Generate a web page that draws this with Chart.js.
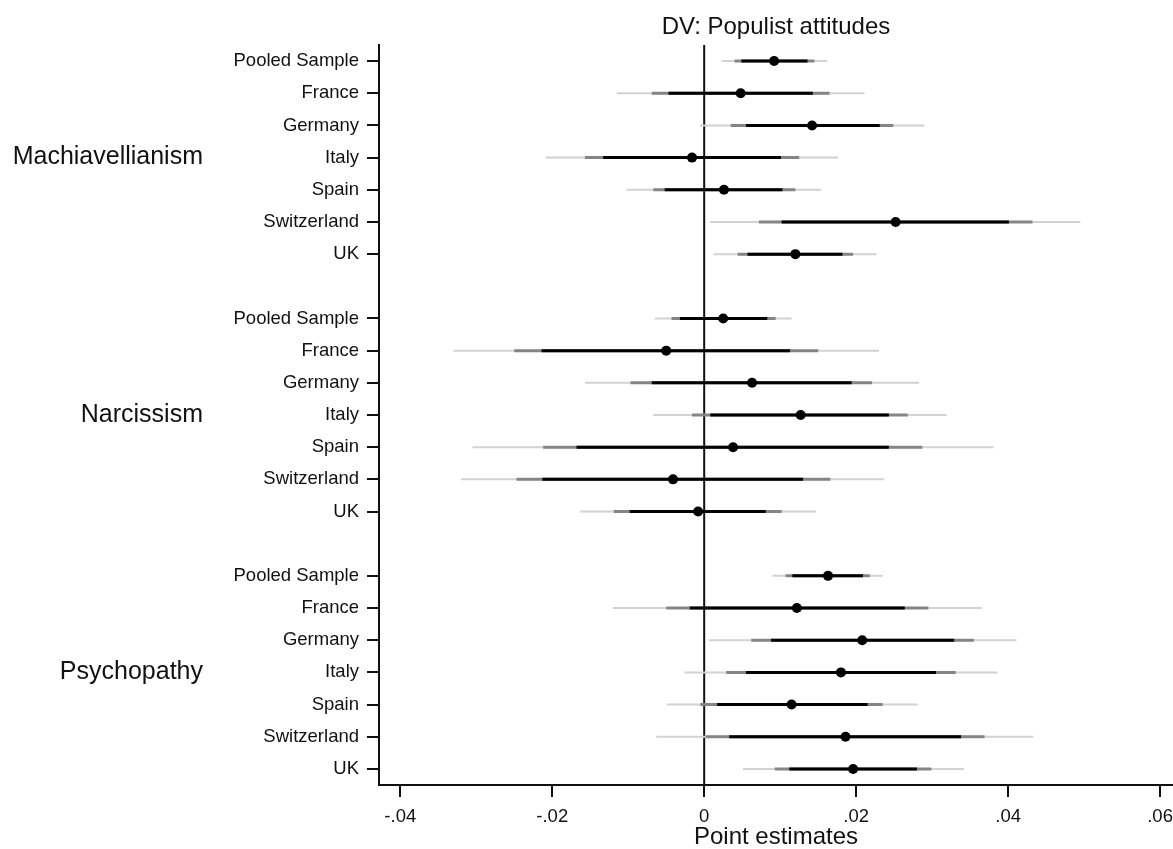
<!DOCTYPE html>
<html>
<head>
<meta charset="utf-8">
<script src="https://cdn.jsdelivr.net/npm/chart.js@4"></script>
<style>
  body { margin: 0; background: #fff; }
  canvas { display: block; }
</style>
</head>
<body>
<canvas id="chart" width="1173" height="849"></canvas>
<script>
const traits = ['Machiavellianism', 'Narcissism', 'Psychopathy'];
const countries = ['Pooled Sample', 'France', 'Germany', 'Italy', 'Spain', 'Switzerland', 'UK'];
const xTicks = [-0.04, -0.02, 0, 0.02, 0.04, 0.06];

// rows: Machiavellianism x7, Narcissism x7, Psychopathy x7 (same country order)
const estimates = [
    0.0092, 0.0048, 0.0142, -0.0016, 0.0026, 0.0252, 0.0120,
    0.0025, -0.0050, 0.0063, 0.0127, 0.0038, -0.0041, -0.0008,
    0.0163, 0.0122, 0.0208, 0.0180, 0.0115, 0.0186, 0.0196
];
// widest interval (light grey)
const lo99 = [
    0.0023, -0.0115, -0.0006, -0.0209, -0.0102, 0.0008, 0.0012,
    -0.0065, -0.0330, -0.0157, -0.0067, -0.0305, -0.0320, -0.0163,
    0.0090, -0.0120, 0.0006, -0.0026, -0.0049, -0.0063, 0.0051
];
const hi99 = [
    0.0162, 0.0211, 0.0290, 0.0176, 0.0154, 0.0495, 0.0227,
    0.0115, 0.0230, 0.0283, 0.0319, 0.0381, 0.0237, 0.0147,
    0.0235, 0.0365, 0.0411, 0.0386, 0.0281, 0.0433, 0.0342
];
// middle interval (grey)
const lo95 = [
    0.0040, -0.0069, 0.0035, -0.0157, -0.0067, 0.0072, 0.0044,
    -0.0043, -0.0250, -0.0097, -0.0016, -0.0212, -0.0247, -0.0119,
    0.0107, -0.0050, 0.0062, 0.0029, -0.0005, 0.0002, 0.0093
];
const hi95 = [
    0.0145, 0.0165, 0.0249, 0.0125, 0.0120, 0.0432, 0.0196,
    0.0094, 0.0150, 0.0221, 0.0268, 0.0287, 0.0166, 0.0102,
    0.0218, 0.0295, 0.0355, 0.0331, 0.0235, 0.0369, 0.0299
];
// narrowest interval (black)
const lo90 = [
    0.0049, -0.0047, 0.0055, -0.0133, -0.0052, 0.0102, 0.0057,
    -0.0032, -0.0214, -0.0069, 0.0008, -0.0168, -0.0213, -0.0098,
    0.0116, -0.0019, 0.0088, 0.0055, 0.0017, 0.0033, 0.0112
];
const hi90 = [
    0.0136, 0.0143, 0.0231, 0.0101, 0.0103, 0.0401, 0.0182,
    0.0083, 0.0113, 0.0194, 0.0243, 0.0243, 0.0130, 0.0081,
    0.0209, 0.0264, 0.0329, 0.0305, 0.0215, 0.0338, 0.0280
];

const FONT = '"Liberation Sans", Arial, sans-serif';
const TXT = '#111';

// row position on the y scale: one empty row between trait groups
function rowPos(i) {
    return Math.floor(i / 7) * 8 + (i % 7);
}
const rowLabels = {};
estimates.forEach((_, i) => { rowLabels[rowPos(i)] = countries[i % 7]; });
const groupLabels = {};
traits.forEach((t, k) => { groupLabels[k * 8 + 3] = t; });

function segments(lo, hi) {
    const pts = [];
    lo.forEach((v, i) => {
        pts.push({ x: v, y: rowPos(i) });
        pts.push({ x: hi[i], y: rowPos(i) });
        pts.push({ x: null, y: null });
    });
    return pts;
}

function ciLine(data, color, width, order) {
    return {
        data: data,
        showLine: true,
        spanGaps: false,
        borderColor: color,
        borderWidth: width,
        borderCapStyle: 'butt',
        pointRadius: 0,
        order: order,
    };
}

const datasets = [
    {
        data: estimates.map((v, i) => ({ x: v, y: rowPos(i) })),
        pointRadius: 5,
        pointBackgroundColor: '#000',
        pointBorderWidth: 0,
        showLine: false,
        order: 0,
    },
    ciLine(segments(lo90, hi90), '#000', 3, 1),
    ciLine(segments(lo95, hi95), '#858585', 3, 2),
    ciLine(segments(lo99, hi99), '#d2d2d2', 2, 3),
    ciLine([{ x: 0, y: -0.5 }, { x: 0, y: 22.5 }], '#111', 2, 4),
];

new Chart(document.getElementById('chart'), {
    type: 'scatter',
    data: { datasets: datasets },
    options: {
        responsive: false,
        animation: false,
        layout: { padding: 0, autoPadding: false },
        plugins: {
            legend: { display: false },
            tooltip: { enabled: false },
        },
        scales: {
            x: {
                type: 'linear',
                position: 'bottom',
                min: -0.0428,
                max: 0.0617,
                afterBuildTicks: (axis) => { axis.ticks = xTicks.map(v => ({ value: v })); },
                afterFit: (axis) => {
                    axis.height = 64;
                    axis.paddingLeft = 0;
                    axis.paddingRight = 0;
                },
                ticks: {
                    padding: 9,
                    color: TXT,
                    font: { family: FONT, size: 18.5 },
                    maxRotation: 0,
                    callback: (v) => v === 0 ? '0' : (v < 0 ? '-' : '') + Math.abs(v).toFixed(2).replace(/^0/, ''),
                },
                grid: { drawOnChartArea: false, drawTicks: true, tickLength: 12, color: '#111', lineWidth: 2 },
                border: { display: true, color: '#111', width: 2 },
                title: {
                    display: true,
                    text: 'Point estimates',
                    color: TXT,
                    font: { family: FONT, size: 24, lineHeight: 1.0 },
                    padding: { top: 0, bottom: 0 },
                },
            },
            x2: {
                type: 'linear',
                position: 'top',
                min: -0.0428,
                max: 0.0617,
                afterFit: (axis) => {
                    axis.height = 45;
                    axis.paddingLeft = 0;
                    axis.paddingRight = 0;
                },
                ticks: { display: false },
                grid: { display: false, drawTicks: false },
                border: { display: false },
                title: {
                    display: true,
                    text: 'DV: Populist attitudes',
                    color: TXT,
                    font: { family: FONT, size: 24 },
                    padding: { top: 13, bottom: 0 },
                },
            },
            y: {
                type: 'linear',
                position: 'left',
                reverse: true,
                min: -0.5,
                max: 22.5,
                weight: 0,
                afterBuildTicks: (axis) => {
                    axis.ticks = Object.keys(rowLabels).map(k => ({ value: Number(k) }));
                },
                afterFit: (axis) => { axis.width = 169; },
                ticks: {
                    padding: 8,
                    color: TXT,
                    font: { family: FONT, size: 18.5 },
                    callback: (v) => rowLabels[v] || '',
                },
                grid: { drawOnChartArea: false, drawTicks: true, tickLength: 12, color: '#111', lineWidth: 2 },
                border: { display: true, color: '#111', width: 2 },
            },
            y2: {
                type: 'linear',
                position: 'left',
                reverse: true,
                min: -0.5,
                max: 22.5,
                weight: 1,
                afterBuildTicks: (axis) => {
                    axis.ticks = Object.keys(groupLabels).map(k => ({ value: Number(k) }));
                },
                afterFit: (axis) => { axis.width = 210; },
                ticks: {
                    padding: 7,
                    color: TXT,
                    font: { family: FONT, size: 25 },
                    callback: (v) => groupLabels[v] || '',
                },
                grid: { display: false, drawTicks: false },
                border: { display: false },
            },
        },
    },
});
</script>
</body>
</html>
